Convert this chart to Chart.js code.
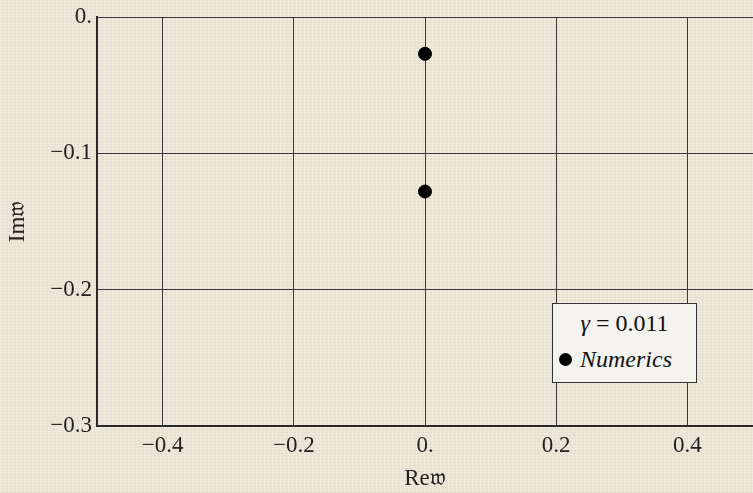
<!DOCTYPE html>
<html>
<head>
<meta charset="utf-8">
<script src="https://cdn.jsdelivr.net/npm/chart.js@4"></script>
<style>
  html, body { margin: 0; padding: 0; }
  body {
    width: 753px; height: 493px; overflow: hidden;
    background-color: #ebe6d6;
    background-image:
      repeating-linear-gradient(90deg, rgba(255,255,255,0.18) 0 1px, rgba(0,0,0,0) 1px 4px),
      repeating-linear-gradient(0deg, rgba(120,110,80,0.06) 0 1px, rgba(0,0,0,0) 1px 3px);
  }
  #wrap { position: relative; width: 753px; height: 493px; }
  #legend {
    position: absolute; left: 552px; top: 303px; width: 143px; height: 78px;
    background: #f4f3f0; border: 1px solid #333;
    font-family: "Liberation Serif", "DejaVu Serif", serif; font-size: 24px; color: #111;
  }
  #legend .row1 { position: absolute; top: 6px; width: 100%; text-align: center; }
  #legend .row2 { position: absolute; top: 42px; left: 6px; white-space: nowrap; }
  #legend .dot { display: inline-block; width: 13px; height: 13px; border-radius: 50%; background: #000; margin-right: 8px; vertical-align: 1px; }
  i { font-style: italic; }
</style>
</head>
<body>
<div id="wrap">
  <canvas id="chart" width="753" height="493"></canvas>
  <div id="legend">
    <div class="row1"><i>γ</i> = 0.011</div>
    <div class="row2"><span class="dot"></span><i>Numerics</i></div>
  </div>
</div>
<script>
// data
var reW = [0, 0];
var imW = [-0.027, -0.128];

var xTicks = [-0.4, -0.2, 0, 0.2, 0.4];
var yTicks = [0, -0.1, -0.2, -0.3];

function fmt(v) {
    if (Math.abs(v) < 1e-9) return '0.';
    var s = Math.abs(v).toString();
    return (v < 0 ? '\u2212' : '') + s;
}

var points = reW.map(function (x, i) { return { x: x, y: imW[i] }; });

var serif = '"Liberation Serif", "DejaVu Serif", serif';

var ctx = document.getElementById('chart').getContext('2d');
var myChart = new Chart(ctx, {
    type: 'scatter',
    data: {
        datasets: [{
            label: 'Numerics',
            data: points,
            backgroundColor: '#000',
            borderColor: '#000',
            pointRadius: 6.5,
            pointHoverRadius: 6.5
        }]
    },
    options: {
        responsive: false,
        animation: false,
        layout: { autoPadding: false, padding: { top: 17, right: 0, left: 0, bottom: 0 } },
        plugins: {
            legend: { display: false },
            tooltip: { enabled: false }
        },
        scales: {
            x: {
                min: -0.5,
                max: 0.5,
                afterBuildTicks: function (scale) {
                    scale.ticks = xTicks.map(function (v) { return { value: v }; });
                },
                afterFit: function (scale) {
                    scale.height = 67;
                    scale.paddingLeft = 0;
                    scale.paddingRight = 0;
                },
                grid: { color: '#3a3a3a', lineWidth: 1, drawTicks: false },
                border: { display: true, color: '#2a2a2a', width: 2 },
                ticks: {
                    color: '#222',
                    font: { family: serif, size: 23 },
                    padding: 6,
                    maxRotation: 0,
                    callback: function (v) { return fmt(v); }
                },
                title: {
                    display: true,
                    text: 'Re\uD835\uDD34',
                    color: '#222',
                    font: { family: serif, size: 23 },
                    padding: { top: 2, bottom: 0 }
                }
            },
            y: {
                min: -0.3,
                max: 0,
                afterBuildTicks: function (scale) {
                    scale.ticks = yTicks.map(function (v) { return { value: v }; });
                },
                afterFit: function (scale) {
                    scale.width = 97;
                    scale.paddingTop = 0;
                    scale.paddingBottom = 0;
                },
                grid: { color: '#3a3a3a', lineWidth: 1, drawTicks: false },
                border: { display: true, color: '#2a2a2a', width: 2 },
                ticks: {
                    color: '#222',
                    font: { family: serif, size: 23 },
                    padding: 5,
                    callback: function (v) { return fmt(v); }
                },
                title: {
                    display: true,
                    text: 'Im\uD835\uDD34',
                    color: '#222',
                    font: { family: serif, size: 23 },
                    padding: { top: 4, bottom: 0 }
                }
            }
        }
    }
});
</script>
</body>
</html>
